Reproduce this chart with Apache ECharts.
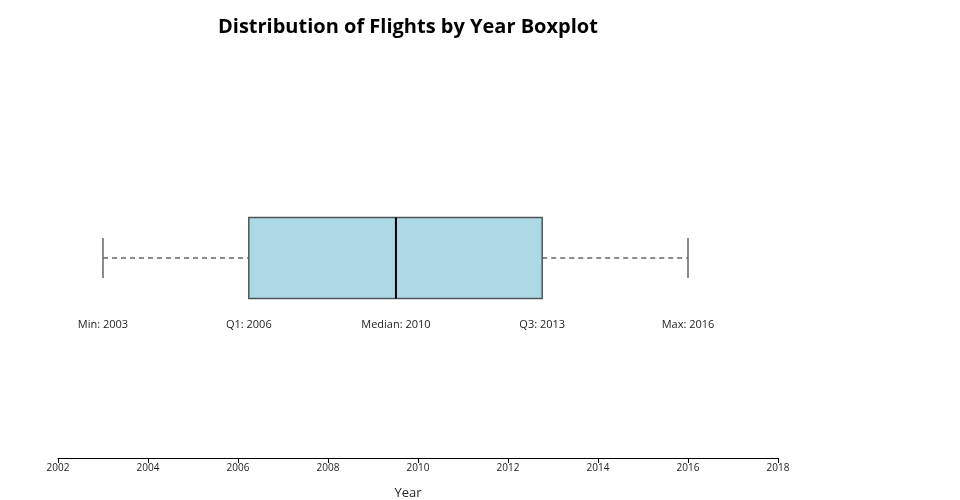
<!DOCTYPE html>
<html>
<head>
<meta charset="utf-8">
<script src="https://cdn.jsdelivr.net/npm/echarts@6/dist/echarts.min.js"></script>
<style>html,body{margin:0;padding:0;background:#fff}#c{width:960px;height:500px}</style>
</head>
<body>
<div id="c"></div>
<script>
const statNames = ['Min', 'Q1', 'Median', 'Q3', 'Max'];
const statValues = [2003, 2006.24, 2009.51, 2012.76, 2016];
const xTicks = [2002, 2018, 2];

const chart = echarts.init(document.getElementById('c'));
const FONT = '"Open Sans", sans-serif';

chart.setOption({
  animation: false,
  title: {
    text: 'Distribution of Flights by Year Boxplot',
    left: 213, top: 12,
    textStyle: { fontFamily: FONT, fontSize: 20, fontWeight: 'bold', color: '#000' }
  },
  grid: { left: 58, right: 182, top: 58, bottom: 42, outerBoundsMode: 'none', containLabel: false },
  xAxis: {
    type: 'value', min: xTicks[0], max: xTicks[1], interval: xTicks[2],
    name: 'Year', nameLocation: 'middle', nameGap: 29,
    nameTextStyle: { fontFamily: FONT, fontSize: 13, color: '#222', padding: [0, 20, 0, 0] },
    axisLine: { show: true, lineStyle: { color: '#000', width: 1 } },
    axisTick: { show: true, length: 5, lineStyle: { color: '#000' } },
    axisLabel: { fontFamily: FONT, fontSize: 10, color: '#222', margin: 5, formatter: v => String(v) },
    splitLine: { show: false }
  },
  yAxis: { type: 'value', min: 0, max: 1, show: false },
  series: [{
    type: 'custom',
    data: [statValues.concat([0.5])],
    renderItem: function (params, api) {
      const y = 5;
      const pts = [0,1,2,3,4].map(i => api.coord([api.value(i), api.value(y)]));
      const cy = pts[0][1];
      const half = 40.5, cap = 20;
      const gray = '#666';
      const children = [
        { type: 'line', shape: { x1: pts[0][0], y1: cy, x2: pts[1][0], y2: cy },
          style: { stroke: gray, lineWidth: 1.5, lineDash: [5, 4] } },
        { type: 'line', shape: { x1: pts[3][0], y1: cy, x2: pts[4][0], y2: cy },
          style: { stroke: gray, lineWidth: 1.5, lineDash: [5, 4] } },
        { type: 'line', shape: { x1: pts[0][0], y1: cy - cap, x2: pts[0][0], y2: cy + cap },
          style: { stroke: gray, lineWidth: 1.5 } },
        { type: 'line', shape: { x1: pts[4][0], y1: cy - cap, x2: pts[4][0], y2: cy + cap },
          style: { stroke: gray, lineWidth: 1.5 } },
        { type: 'rect', shape: { x: pts[1][0], y: cy - half, width: pts[3][0] - pts[1][0], height: 2 * half },
          style: { fill: '#add8e6', stroke: '#4d5558', lineWidth: 1.5 } },
        { type: 'line', shape: { x1: pts[2][0], y1: cy - half, x2: pts[2][0], y2: cy + half },
          style: { stroke: '#000', lineWidth: 2 } }
      ];
      for (let i = 0; i < 5; i++) {
        children.push({ type: 'text', x: pts[i][0], y: cy + 67,
          style: { text: statNames[i] + ': ' + Math.round(api.value(i)), fill: '#222',
            font: '11px ' + FONT, align: 'center', verticalAlign: 'middle' } });
      }
      return { type: 'group', children: children };
    }
  }]
});
</script>
</body>
</html>
